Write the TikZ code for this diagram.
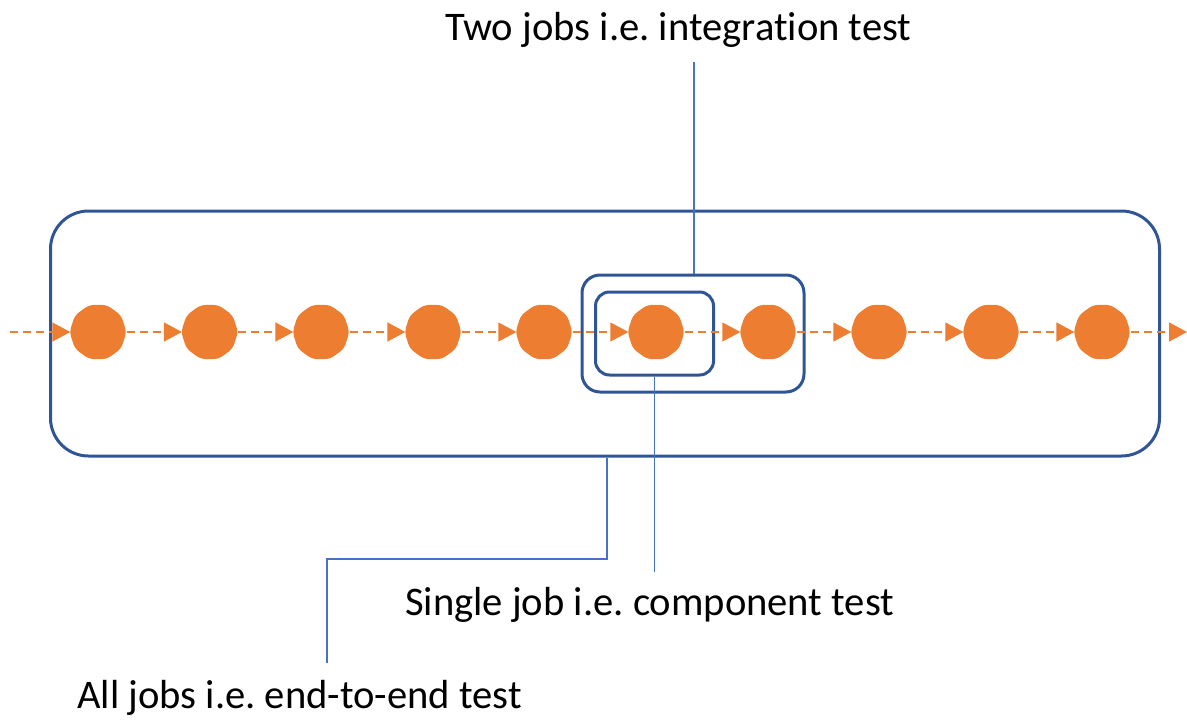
\documentclass[tikz,border=0pt]{standalone}
\usepackage{fontspec}
\setmainfont[Ligatures={NoCommon,NoRare,NoContextual}]{Carlito}
\frenchspacing
\usetikzlibrary{arrows.meta,shapes.geometric}
\definecolor{boxblue}{HTML}{2F5597}
\definecolor{leadblue}{HTML}{4472C4}
\definecolor{joborange}{HTML}{ED7D31}
\tikzset{
  frame/.style={draw=boxblue, line width=3pt, rectangle, inner sep=0pt},
  job/.style={regular polygon, regular polygon sides=10, fill=joborange,
    minimum size=57pt, inner sep=0pt, rounded corners=5pt},
  flow/.style={draw=joborange, line width=1.5pt, dash pattern=on 8pt off 5pt,
    -{Triangle[length=18pt,width=19pt,fill=joborange]}, shorten >=-1pt},
  leader/.style={draw=leadblue, line width=1.5pt},
  caption/.style={anchor=base west, inner sep=0pt, font=\fontsize{40.6}{48}\selectfont}
}
\begin{document}
\begin{tikzpicture}[x=1pt,y=-1pt]
\useasboundingbox (0,0) rectangle (1187,720);

% nested scopes of tests
\node[frame, rounded corners=38pt, minimum width=1109pt, minimum height=245pt] (all) at (605,333.5) {};
\node[frame, rounded corners=18pt, minimum width=222pt, minimum height=117pt] (two) at (693,333.5) {};
\node[frame, rounded corners=14pt, minimum width=118pt, minimum height=83pt] (one) at (654.5,333.5) {};

% chain of jobs
\coordinate (start) at (10,332);
\coordinate (finish) at (1187,332);
\foreach \i/\x in {1/98,2/209.6,3/321,4/433,5/544,6/656,7/768,8/879,9/991,10/1102}
  \node[job] (j\i) at (\x,332) {};
\draw[flow] (start) -- (j1.west);
\foreach \a/\b in {1/2,2/3,3/4,4/5,5/6,6/7,7/8,8/9,9/10}
  \draw[flow] (j\a.east) -- (j\b.west);
\draw[flow, shorten >=0pt] (j10.east) -- (finish);

% captions
\node[caption] (captwo) at (445,40) {Two jobs i.e. integration test};
\node[caption] (capone) at (405,615) {Single job i.e. component test};
\node[caption] (capall) at (77,708) {All jobs i.e. end-to-end test};

% leader lines
\coordinate (twoend) at (694,62);
\coordinate (oneend) at (654.5,572);
\coordinate (allend) at (327,663);
\draw[leader] (twoend) -- (twoend |- two.north);
\draw[leader] (one.south) -- (oneend);
\draw[leader] (all.south -| 607,0) -- (607,559) -| (allend);
\end{tikzpicture}
\end{document}
